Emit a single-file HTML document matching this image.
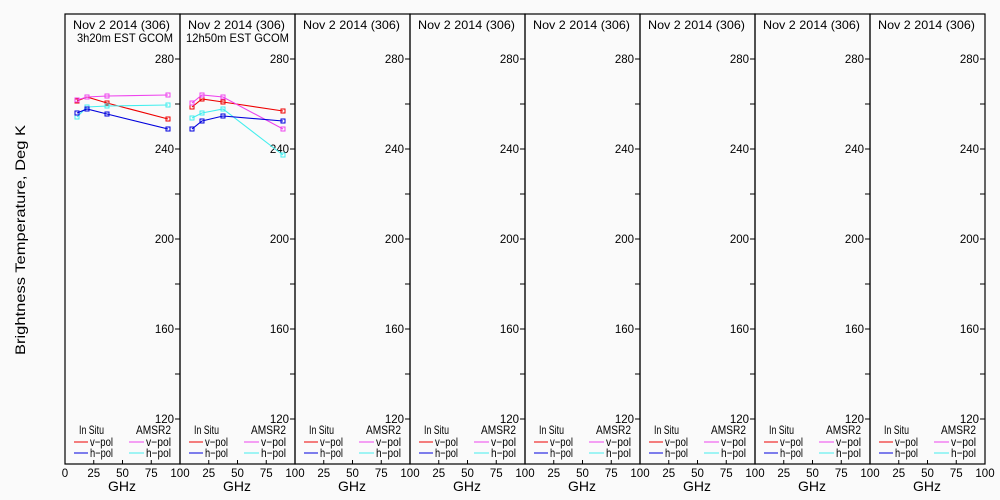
<!DOCTYPE html>
<html><head><meta charset="utf-8"><style>
html,body{margin:0;padding:0;background:#fafafa;}
svg{display:block;font-family:"Liberation Sans","DejaVu Sans",sans-serif;}
</style></head><body>
<svg id="s" width="1000" height="500" xmlns="http://www.w3.org/2000/svg">
<rect width="1000" height="500" fill="#fafafa"/>
<text x="25" y="240" font-size="14" text-anchor="middle" textLength="230" lengthAdjust="spacingAndGlyphs" transform="rotate(-90 25 240)" fill="#000">Brightness Temperature, Deg K</text>
</svg>
<script>
var s=document.getElementById('s'),h='';
function Y(v){return 464-(v-100)*2.25;}
function T(x,y,t,len,fs){return '<text x="'+x+'" y="'+y+'" font-size="'+(fs||12)+'" textLength="'+len+'" lengthAdjust="spacingAndGlyphs">'+t+'</text>';}
for(var p=0;p<8;p++){
 var L=65+p*115,R=L+115;
 h+='<rect x="'+L+'" y="14" width="115" height="450" fill="none" stroke="#000" stroke-width="1.2"/>';
 h+=T(L+8,29,'Nov 2 2014 (306)',97);
 for(var v=120;v<=280;v+=20){var y=Y(v);
  h+='<line x1="'+(R-5)+'" y1="'+y+'" x2="'+R+'" y2="'+y+'" stroke="#000"/>';
  if(v%40==0)h+='<text x="'+(R-6)+'" y="'+(y+4)+'" font-size="11.5" text-anchor="end">'+v+'</text>';}
 for(var g=0;g<=100;g+=25){var x=L+g*1.15;
  h+='<line x1="'+x+'" y1="460" x2="'+x+'" y2="464" stroke="#000"/>';
  if(!(p>0&&g==0))h+='<text x="'+x+'" y="477" font-size="11.5" text-anchor="middle">'+g+'</text>';}
 h+='<text x="'+(L+57)+'" y="491" font-size="14" text-anchor="middle">GHz</text>';
 h+=T(L+14,434,'In Situ',25)+T(L+71,434,'AMSR2',35);
 h+='<line x1="'+(L+9)+'" y1="442" x2="'+(L+23)+'" y2="442" stroke="#e00"/>'+T(L+25,446,'v−pol',23);
 h+='<line x1="'+(L+9)+'" y1="453" x2="'+(L+23)+'" y2="453" stroke="#00d"/>'+T(L+25,457,'h−pol',23);
 h+='<line x1="'+(L+64)+'" y1="442" x2="'+(L+79)+'" y2="442" stroke="#e4e"/>'+T(L+81,446,'v−pol',25);
 h+='<line x1="'+(L+64)+'" y1="453" x2="'+(L+79)+'" y2="453" stroke="#4ee"/>'+T(L+81,457,'h−pol',25);
}
h+=T(77,42,'3h20m EST GCOM',96)+T(186,42,'12h50m EST GCOM',103);
var D=[
['#e00',[[77,101],[87,97],[107,103],[168,119]]],
['#e4e',[[77,100],[87,97],[107,96],[168,95]]],
['#4ee',[[77,117],[87,107],[107,106],[168,105]]],
['#00d',[[77,113],[87,109],[107,114],[168,129]]],
['#e00',[[192,107],[202,99],[223,102],[283,111]]],
['#e4e',[[192,103],[202,95],[223,97],[283,129]]],
['#4ee',[[192,118],[202,113],[223,109],[283,155]]],
['#00d',[[192,129],[202,121],[223,116],[283,121]]]];
D.forEach(function(d){
 h+='<polyline fill="none" stroke="'+d[0]+'" stroke-width="1.1" points="'+d[1].map(function(q){return q.join(',')}).join(' ')+'"/>';
 d[1].forEach(function(q){h+='<rect x="'+(q[0]-2)+'" y="'+(q[1]-2)+'" width="4" height="4" fill="none" stroke="'+d[0]+'"/>';});
});
s.insertAdjacentHTML('beforeend',h);
</script>
</body></html>
